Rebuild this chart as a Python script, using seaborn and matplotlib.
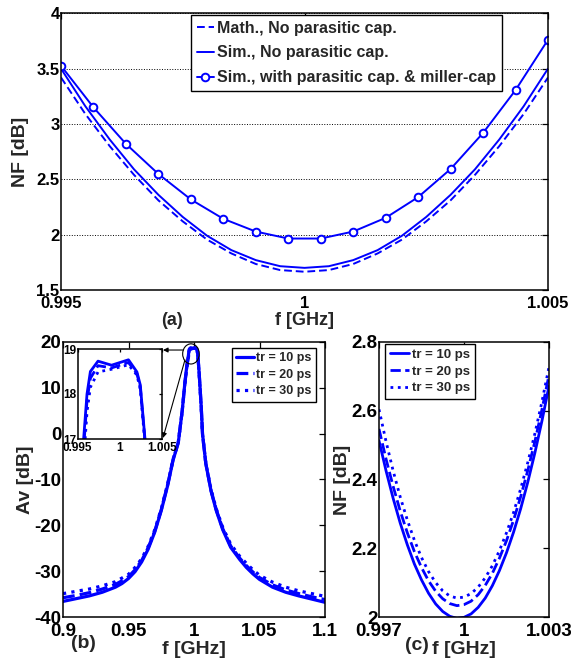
import numpy as np
import pandas as pd
import matplotlib
matplotlib.use("Agg")
from matplotlib import pyplot as plt
from matplotlib.patches import Ellipse
import seaborn as sns

BLUE = "#0000ff"

# (a) noise figure around 1 GHz
f_a = np.linspace(0.995, 1.005, 21)
nf_math = [3.42, 3.09, 2.80, 2.54, 2.31, 2.12, 1.955, 1.83, 1.735, 1.68, 1.665,
           1.68, 1.735, 1.83, 1.955, 2.12, 2.31, 2.54, 2.80, 3.09, 3.42]
nf_sim = [3.50, 3.16, 2.86, 2.59, 2.36, 2.16, 1.99, 1.86, 1.77, 1.715, 1.70,
          1.715, 1.77, 1.86, 1.99, 2.16, 2.36, 2.59, 2.86, 3.16, 3.50]
f_a_mk = np.linspace(0.995, 1.005, 16)
nf_par = [3.526, 3.15, 2.82, 2.548, 2.318, 2.143, 2.028, 1.965, 1.965, 2.028,
          2.152, 2.339, 2.593, 2.919, 3.306, 3.761]
labels_a = ["Math., No parasitic cap.", "Sim., No parasitic cap.",
            "Sim., with parasitic cap. & miller-cap"]

# (b) voltage gain
f_b = [0.900, 0.910, 0.920, 0.930, 0.940, 0.945, 0.950, 0.955, 0.960, 0.965,
       0.970, 0.975, 0.980, 0.984, 0.988, 0.991, 0.993, 0.9945, 0.9957, 0.9961,
       0.9965, 0.9974, 0.9990, 1.0010, 1.0020, 1.0024, 1.0030, 1.0040, 1.0055,
       1.0065, 1.0090, 1.0130, 1.0170, 1.0220, 1.0280, 1.0350, 1.0400, 1.0450,
       1.0500, 1.0600, 1.0700, 1.0800, 1.0900, 1.1000]
av_10 = [-36.6, -36.0, -35.4, -34.6, -33.5, -32.7, -31.6, -30.1, -28.0, -25.2,
         -21.5, -16.8, -11.2, -5.8, -2.0, 5.0, 11.0, 14.8, 17.0, 18.0,
         18.5, 18.73, 18.64, 18.76, 18.49, 18.2, 16.9, 13.0, 6.0,
         0.0, -6.5, -12.5, -16.8, -21.0, -24.8, -27.5, -29.2, -30.6,
         -31.8, -33.5, -34.6, -35.4, -36.1, -36.8]
av_20 = [-35.8, -35.3, -34.7, -33.9, -32.9, -32.1, -31.2, -29.7, -27.7, -24.9,
         -21.3, -16.6, -11.0, -5.7, -1.9, 5.0, 10.9, 14.6, 16.8, 17.85,
         18.35, 18.63, 18.58, 18.70, 18.45, 18.15, 16.85, 12.9, 5.9,
         -0.1, -6.5, -12.4, -16.6, -20.8, -24.5, -27.2, -28.8, -30.2,
         -31.4, -33.0, -34.1, -34.9, -35.6, -36.2]
av_30 = [-34.9, -34.4, -33.9, -33.2, -32.3, -31.5, -30.7, -29.2, -27.3, -24.6,
         -21.0, -16.4, -10.8, -5.6, -1.8, 4.9, 10.7, 14.3, 16.5, 17.6,
         18.15, 18.49, 18.55, 18.65, 18.42, 18.1, 16.8, 12.8, 5.8,
         -0.2, -6.4, -12.2, -16.4, -20.5, -24.1, -26.8, -28.3, -29.7,
         -30.9, -32.4, -33.5, -34.3, -34.9, -35.5]

# (c) noise figure vs rise time
f_c = np.linspace(0.997, 1.003, 25)
nf_10 = [2.513, 2.425, 2.345, 2.273, 2.210, 2.154, 2.108, 2.069, 2.038, 2.016,
         2.002, 1.996, 1.999, 2.009, 2.028, 2.055, 2.091, 2.135, 2.187, 2.247,
         2.315, 2.392, 2.477, 2.570, 2.672]
nf_20 = [2.547, 2.459, 2.380, 2.308, 2.245, 2.190, 2.144, 2.105, 2.075, 2.053,
         2.039, 2.033, 2.036, 2.046, 2.065, 2.092, 2.127, 2.171, 2.222, 2.282,
         2.350, 2.426, 2.510, 2.603, 2.704]
nf_30 = [2.604, 2.510, 2.425, 2.349, 2.282, 2.223, 2.173, 2.132, 2.100, 2.076,
         2.061, 2.055, 2.058, 2.068, 2.087, 2.114, 2.149, 2.193, 2.245, 2.304,
         2.373, 2.449, 2.533, 2.626, 2.727]
tr_labels = ["tr = 10 ps", "tr = 20 ps", "tr = 30 ps"]
tr_styles = ["-", "--", ":"]

sns.set_style("white")
plt.rcParams['font.family'] = ['Liberation Sans', 'DejaVu Sans']
plt.rcParams['font.weight'] = 'bold'
plt.rcParams['axes.labelweight'] = 'bold'
plt.rcParams['axes.unicode_minus'] = False

W, H = 571, 658
fig = plt.figure(figsize=(W / 100, H / 100), dpi=100)


def box(l, r, t, b):
    return [l / W, 1 - b / H, (r - l) / W, (b - t) / H]


def style_ax(ax, size, pad_x=4, pad_y=1, length=4):
    for s in ax.spines.values():
        s.set_color("black")
        s.set_linewidth(1.1)
    ax.tick_params(direction="in", top=True, right=True, length=length,
                   width=0.9, labelsize=size, colors="black")
    ax.tick_params(axis="x", pad=pad_x)
    ax.tick_params(axis="y", pad=pad_y)
    for t in ax.get_xticklabels() + ax.get_yticklabels():
        t.set_fontweight("bold")


def legend(ax, loc, anchor, size, hl, spacing=0.35):
    lg = ax.legend(loc=loc, bbox_to_anchor=anchor, frameon=True, fancybox=False,
                   edgecolor="black", framealpha=1, borderaxespad=0,
                   prop=dict(weight="bold", size=size), handlelength=hl,
                   handletextpad=0.2, borderpad=0.35, labelspacing=spacing)
    lg.get_frame().set_linewidth(1.0)


# ---- (a)
ax_a = fig.add_axes(box(61, 548, 13.3, 290))
sns.lineplot(x=f_a, y=nf_math, ax=ax_a, color=BLUE, lw=1.4, linestyle=(0, (4, 2)),
             label=labels_a[0])
sns.lineplot(x=f_a, y=nf_sim, ax=ax_a, color=BLUE, lw=1.4, label=labels_a[1])
sns.lineplot(x=f_a_mk, y=nf_par, ax=ax_a, color=BLUE, lw=1.4, marker="o", ms=5.5,
             mfc="white", mec=BLUE, mew=1.4, label=labels_a[2])
ax_a.set_xlim(0.995, 1.005)
ax_a.set_ylim(1.5, 4)
ax_a.set_xticks([0.995, 1, 1.005])
ax_a.set_xticklabels(["0.995", "1", "1.005"])
ax_a.set_yticks([1.5, 2, 2.5, 3, 3.5, 4])
ax_a.set_yticklabels(["1.5", "2", "2.5", "3", "3.5", "4"])
ax_a.yaxis.grid(True, linestyle=":", color="black", lw=0.7)
ax_a.set_xlabel("f [GHz]", fontsize=13, labelpad=1)
ax_a.set_ylabel("NF [dB]", fontsize=14)
ax_a.yaxis.set_label_coords(-0.065, 0.5)
style_ax(ax_a, 12, pad_x=4)
legend(ax_a, "upper right", (0.9055, 0.994), 11.5, 1.1, spacing=0.62)
fig.text(172 / W, 1 - 320 / H, "(a)", ha="center", va="center", fontsize=13,
         fontweight="bold")

# ---- (b)
ax_b = fig.add_axes(box(63, 325, 342, 617))
for vals, ls, lab in zip([av_10, av_20, av_30], tr_styles, tr_labels):
    sns.lineplot(x=f_b, y=vals, ax=ax_b, color=BLUE, lw=2.3, linestyle=ls, label=lab)
ax_b.set_xlim(0.9, 1.1)
ax_b.set_ylim(-40, 20)
ax_b.set_xticks([0.9, 0.95, 1, 1.05, 1.1])
ax_b.set_xticklabels(["0.9", "0.95", "1", "1.05", "1.1"])
ax_b.set_yticks([-40, -30, -20, -10, 0, 10, 20])
ax_b.set_xlabel("f [GHz]", fontsize=14, labelpad=1)
ax_b.set_ylabel("Av [dB]", fontsize=14)
ax_b.yaxis.set_label_coords(-0.111, 0.5)
style_ax(ax_b, 13.5, pad_x=4)
legend(ax_b, "upper right", (0.966, 0.978), 9, 1.4)
ax_b.add_patch(Ellipse((0.9977, 17.4), 0.0127, 4.4, fill=False, ec="black",
                       lw=0.8, zorder=5))
arrow = dict(arrowstyle="-|>", color="black", lw=0.8, mutation_scale=7,
             shrinkA=0, shrinkB=0)
ax_b.annotate("", xy=(0.9763, 18.25), xytext=(0.9916, 18.25), arrowprops=arrow)
ax_b.annotate("", xy=(0.9763, -0.95), xytext=(0.9931, 16.1), arrowprops=arrow)
fig.text(83 / W, 1 - 643 / H, "(b)", ha="center", va="center", fontsize=14,
         fontweight="bold")

# inset
ax_in = fig.add_axes(box(77.7, 162.3, 349, 439))
for vals, ls in zip([av_10, av_20, av_30], tr_styles):
    sns.lineplot(x=f_b, y=vals, ax=ax_in, color=BLUE, lw=2.0, linestyle=ls)
ax_in.set_xlim(0.995, 1.005)
ax_in.set_ylim(17, 19)
ax_in.set_xticks([0.995, 1, 1.005])
ax_in.set_xticklabels(["0.995", "1", "1.005"])
ax_in.set_yticks([17, 18, 19])
style_ax(ax_in, 8.5, pad_x=2, pad_y=1, length=2.5)

# ---- (c)
ax_c = fig.add_axes(box(379, 549, 342, 617))
for vals, ls, lab in zip([nf_10, nf_20, nf_30], tr_styles, tr_labels):
    sns.lineplot(x=f_c, y=vals, ax=ax_c, color=BLUE, lw=2.0, linestyle=ls, label=lab)
ax_c.set_xlim(0.997, 1.003)
ax_c.set_ylim(2, 2.8)
ax_c.set_xticks([0.997, 1, 1.003])
ax_c.set_xticklabels(["0.997", "1", "1.003"])
ax_c.set_yticks([2, 2.2, 2.4, 2.6, 2.8])
ax_c.set_yticklabels(["2", "2.2", "2.4", "2.6", "2.8"])
ax_c.set_xlabel("f [GHz]", fontsize=14, labelpad=1)
ax_c.set_ylabel("NF [dB]", fontsize=14)
ax_c.yaxis.set_label_coords(-0.162, 0.5)
style_ax(ax_c, 13.5, pad_x=4)
legend(ax_c, "upper left", (0.035, 0.993), 9.5, 1.5)
fig.text(417 / W, 1 - 646 / H, "(c)", ha="center", va="center", fontsize=14,
         fontweight="bold")

fig.savefig("out.png", dpi=100)
